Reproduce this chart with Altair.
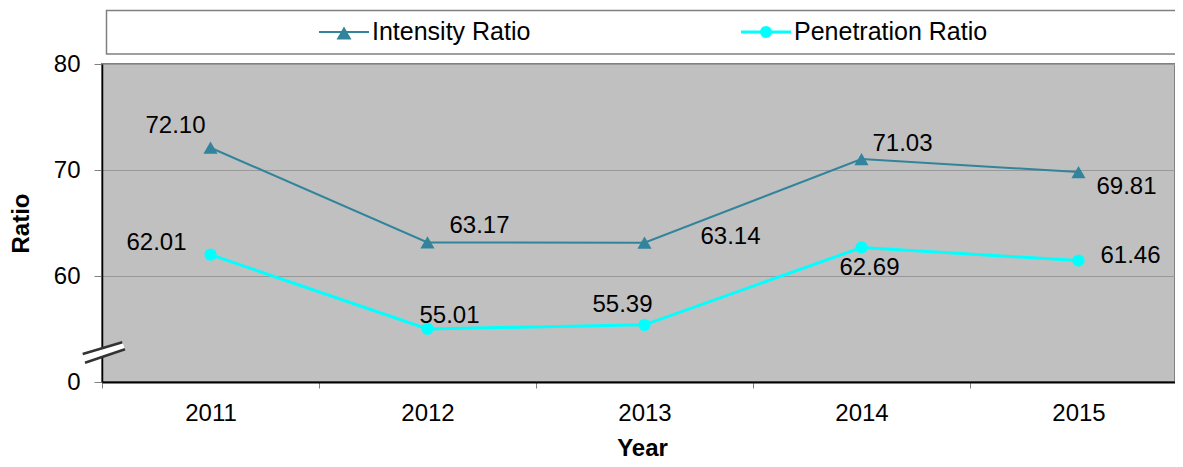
import altair as alt
import pandas as pd

# ---------------- data ----------------
years = ["2011", "2012", "2013", "2014", "2015"]
series_names = ["Intensity Ratio", "Penetration Ratio"]
intensity = [72.10, 63.17, 63.14, 71.03, 69.81]
penetration = [62.01, 55.01, 55.39, 62.69, 61.46]
y_ticks = [50, 60, 70, 80]
y_tick_labels = ["0", "60", "70", "80"]  # broken axis: the bottom tick is shown as 0

# ---------------- styling ----------------
colors = ["#31849B", "#00FFFF"]
line_widths = [2, 3]
marker_shapes = ["triangle-up", "circle"]
marker_sizes = [200, 150]
legend_marker_sizes = [225, 144]
FONT = "Liberation Sans"
label_offsets = {
    "Intensity Ratio": [(-35, -22), (52, -16), (86, -6), (41, -15), (48, 15)],
    "Penetration Ratio": [(-54, -12), (22, -13), (-22, -20), (8, 21), (52, -5)],
}
# legend layout (pixels relative to the plot's top-left corner)
legend_entry_x = [217, 639]   # left end of each legend line sample
legend_sample_len = 50
legend_y = -32

rows = []
for s, vals in zip(series_names, [intensity, penetration]):
    for yr, v in zip(years, vals):
        rows.append({"series": s, "year": yr, "value": v, "label": f"{v:.2f}"})
df = pd.DataFrame(rows)
dummy = pd.DataFrame({"k": [0]})

label_expr = ""
for v, lab in zip(y_ticks, y_tick_labels):
    label_expr += f"datum.value == {v} ? '{lab}' : "
label_expr += "datum.label"

x_enc = alt.X(
    "year:N",
    scale=alt.Scale(type="band", domain=years, range=[0, 1085], paddingInner=0, paddingOuter=0),
    axis=alt.Axis(
        title="Year", tickBand="extent", labelAngle=0, labelFontSize=24, labelFont=FONT,
        labelColor="black", labelPadding=13, tickSize=6, tickColor="#808080",
        domainColor="black", domainWidth=2, grid=False,
        titleFontSize=24, titleFont=FONT, titleFontWeight="bold", titleColor="black",
        titleX=540, titleY=66, titleBaseline="middle", titleAlign="center",
    ),
)
y_enc = alt.Y(
    "value:Q",
    scale=alt.Scale(domain=[50, 80], nice=False, zero=False),
    axis=alt.Axis(
        title="Ratio", values=y_ticks, labelExpr=label_expr, labelFontSize=24, labelFont=FONT,
        labelColor="black", labelPadding=14, tickSize=8, tickColor="#808080",
        domainColor="black", domainWidth=1.5, grid=True, gridColor="#999999", gridWidth=1,
        labelFlush=False,
        titleFontSize=24, titleFont=FONT, titleFontWeight="bold", titleColor="black",
        titleX=-81, titleY=159, titleAngle=270, titleAlign="center", titleBaseline="middle",
    ),
)
color_scale = alt.Scale(domain=series_names, range=colors)

layers = []

# legend box
layers.append(
    alt.Chart(dummy).mark_rect(fill="white", stroke="#808080", strokeWidth=1.5).encode(
        x=alt.value(4.5), x2=alt.value(1100), y=alt.value(-53.5), y2=alt.value(-10)
    )
)

# series lines
layers.append(
    alt.Chart(df).mark_line().encode(
        x=x_enc, y=y_enc,
        color=alt.Color("series:N", scale=color_scale, legend=None),
        strokeWidth=alt.StrokeWidth("series:N", scale=alt.Scale(domain=series_names, range=line_widths), legend=None),
    )
)

# series markers
for s, shp, sz in zip(series_names, marker_shapes, marker_sizes):
    layers.append(
        alt.Chart(df).transform_filter(alt.datum.series == s).mark_point(
            filled=True, shape=shp, size=sz, opacity=1
        ).encode(x=x_enc, y=y_enc, color=alt.Color("series:N", scale=color_scale, legend=None))
    )

# legend entries (line sample + marker + label)
for s, c, lw, shp, lsz, lx in zip(series_names, colors, line_widths, marker_shapes,
                                  legend_marker_sizes, legend_entry_x):
    layers.append(
        alt.Chart(dummy).mark_rule(color=c, strokeWidth=lw).encode(
            x=alt.value(lx), x2=alt.value(lx + legend_sample_len),
            y=alt.value(legend_y), y2=alt.value(legend_y),
        )
    )
    layers.append(
        alt.Chart(dummy).mark_point(filled=True, shape=shp, size=lsz, color=c, opacity=1).encode(
            x=alt.value(lx + legend_sample_len / 2), y=alt.value(legend_y + (1 if shp == "triangle-up" else 0))
        )
    )
    layers.append(
        alt.Chart(dummy).mark_text(align="left", baseline="middle", fontSize=25, font=FONT, color="black").encode(
            x=alt.value(lx + legend_sample_len + 3), y=alt.value(legend_y), text=alt.value(s)
        )
    )

# axis break symbol
layers.append(alt.Chart(dummy).mark_rule(color="white", strokeWidth=7).encode(
    x=alt.value(-18.2), x2=alt.value(21.7), y=alt.value(294.3), y2=alt.value(281.8)))
layers.append(alt.Chart(dummy).mark_rule(color="#333333", strokeWidth=2.5).encode(
    x=alt.value(-19.3), x2=alt.value(20.3), y=alt.value(290), y2=alt.value(278.3)))
layers.append(alt.Chart(dummy).mark_rule(color="#333333", strokeWidth=2.5).encode(
    x=alt.value(-17), x2=alt.value(23), y=alt.value(298.7), y2=alt.value(285.3)))

# value labels
for s in series_names:
    for yr, (dx, dy) in zip(years, label_offsets[s]):
        layers.append(
            alt.Chart(df)
            .transform_filter((alt.datum.series == s) & (alt.datum.year == yr))
            .mark_text(dx=dx, dy=dy, fontSize=24, font=FONT, color="black")
            .encode(x=x_enc, y=y_enc, text="label:N")
        )

chart = alt.layer(*layers).properties(
    width=1073, height=318,
    autosize=alt.AutoSizeParams(type="none"),
    padding={"left": 94, "top": 56, "right": 0, "bottom": 77},
).configure(font=FONT).configure_view(fill="#C0C0C0", stroke="#808080", strokeWidth=2)

chart.save("out.html", embed_options={"renderer": "svg", "actions": False})
